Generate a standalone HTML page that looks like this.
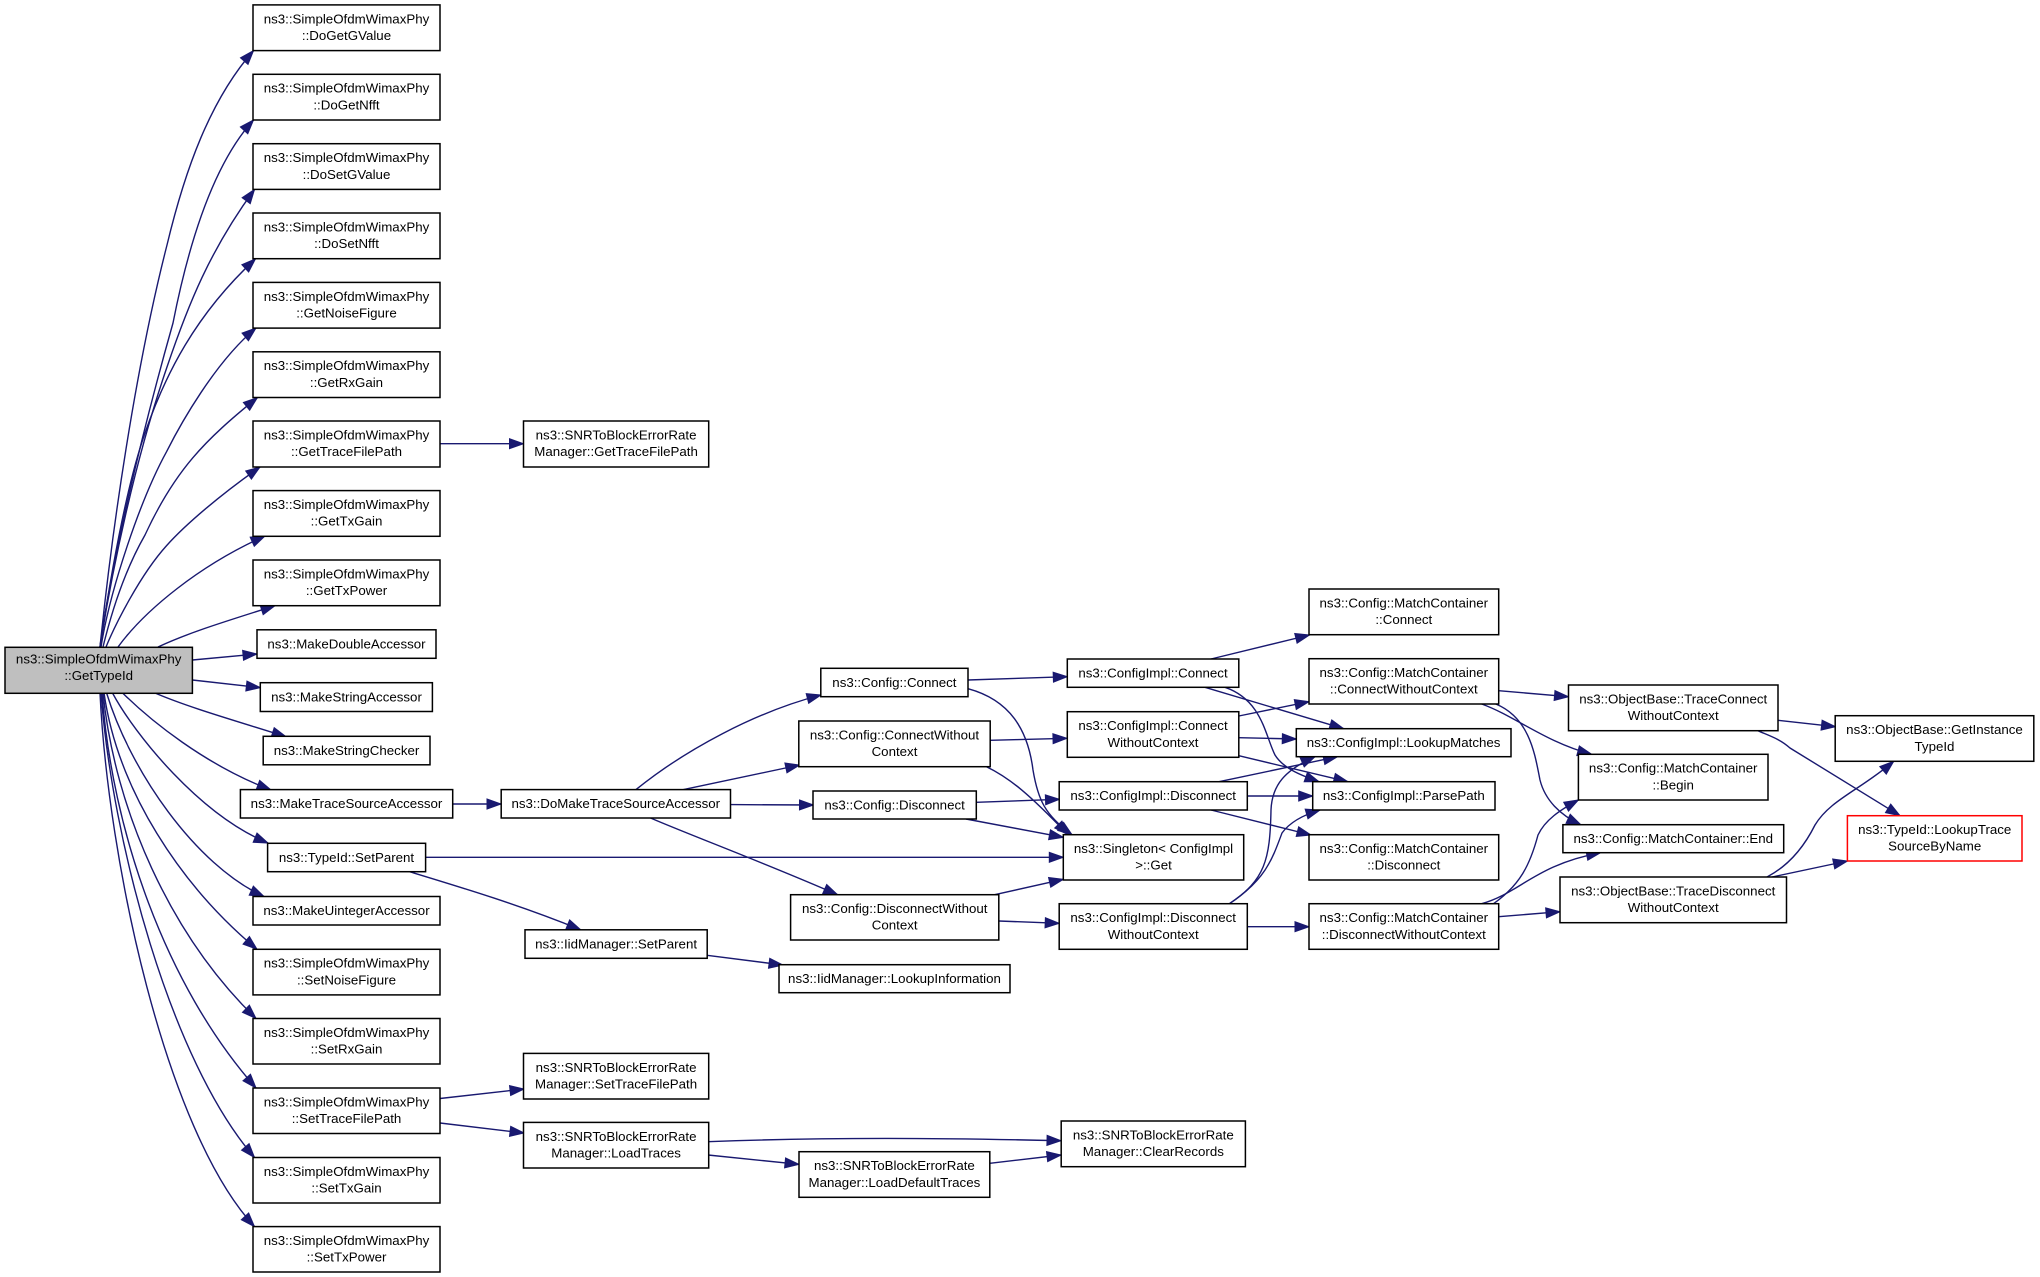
<!DOCTYPE html>
<html><head><meta charset="utf-8"><title>GetTypeId call graph</title>
<style>
html,body{margin:0;padding:0;background:#fff;width:2040px;height:1277px;overflow:hidden}
svg{display:block;filter:blur(0.35px)}
text{font-family:"Liberation Sans",sans-serif;font-size:13.3px;fill:#000;text-anchor:middle}
.n rect{fill:#fff;stroke:#000;stroke-width:1.5}
.e path{fill:none;stroke:#191970;stroke-width:1.4}
</style></head><body>
<svg xmlns="http://www.w3.org/2000/svg" width="2040" height="1277" viewBox="0 0 2040 1277">
<defs><marker id="a" markerUnits="userSpaceOnUse" markerWidth="20" markerHeight="16" refX="14" refY="5" orient="auto" overflow="visible"><path d="M0,0 L14,5 L0,10 z" fill="#191970" stroke="#191970" stroke-width="1"/></marker></defs>
<rect width="2040" height="1277" fill="#fff"/>
<g class="e">
<path marker-end="url(#a)" d="M100 647C112 530 135 370 167 245C185 170 210 100 253.5 50.6"/>
<path marker-end="url(#a)" d="M100 647C112 560 140 440 173 323C185 262 208 170 253.5 120"/>
<path marker-end="url(#a)" d="M100 647C112 570 135 460 167 367C188 305 210 250 254.5 189.4"/>
<path marker-end="url(#a)" d="M100 647C110 580 125 490 145 433C165 375 195 315 255.5 258.8"/>
<path marker-end="url(#a)" d="M101 647C110 590 140 500 166.7 451.4C180 425 215 362 256 328"/>
<path marker-end="url(#a)" d="M103 647C112 610 125 570 145 535C175 470 205 440 257.4 397.6"/>
<path marker-end="url(#a)" d="M106 647C115 625 140 575 166.7 545.5C185 525 220 495 260 467"/>
<path marker-end="url(#a)" d="M118 647C145 610 200 565 265 536"/>
<path marker-end="url(#a)" d="M158 647C190 632 230 620 275 605.7"/>
<path marker-end="url(#a)" d="M192.4 660L257 654"/>
<path marker-end="url(#a)" d="M192.4 680L260.3 687.6"/>
<path marker-end="url(#a)" d="M155 693C190 708 240 722 286 736.7"/>
<path marker-end="url(#a)" d="M122.6 693C150 720 205 765 271 790"/>
<path marker-end="url(#a)" d="M112.5 693C135 735 200 815 268 843"/>
<path marker-end="url(#a)" d="M106.6 693C130 770 195 865 264 896.5"/>
<path marker-end="url(#a)" d="M104 693C118 790 180 885 257 949.3"/>
<path marker-end="url(#a)" d="M103 693C115 810 170 935 256 1018.5"/>
<path marker-end="url(#a)" d="M102 693C112 830 165 985 256 1088"/>
<path marker-end="url(#a)" d="M101 693C112 840 170 1060 254.5 1157.5"/>
<path marker-end="url(#a)" d="M100 693C108 860 165 1130 254.5 1226.6"/>
<path marker-end="url(#a)" d="M440 443.7L523.5 443.7"/>
<path marker-end="url(#a)" d="M452.7 804L501 804"/>
<path marker-end="url(#a)" d="M425.6 857.3L1063.3 857.3"/>
<path marker-end="url(#a)" d="M409.6 871.7C460 887 520 905 580.7 929.8"/>
<path marker-end="url(#a)" d="M707 955.3L783 965"/>
<path marker-end="url(#a)" d="M440 1098.5L524 1089"/>
<path marker-end="url(#a)" d="M440 1123L524 1133"/>
<path marker-end="url(#a)" d="M708 1141.7C830 1137 940 1138 1061 1140.7"/>
<path marker-end="url(#a)" d="M708 1155L799 1164.3"/>
<path marker-end="url(#a)" d="M989.8 1163.3L1061 1155"/>
<path marker-end="url(#a)" d="M636 789.6C685 750 755 712 821 695"/>
<path marker-end="url(#a)" d="M683.5 789.6L799.6 765"/>
<path marker-end="url(#a)" d="M730.5 804.6L813.5 805"/>
<path marker-end="url(#a)" d="M650.5 818C690 835 770 865 837.5 894.7"/>
<path marker-end="url(#a)" d="M968 680L1067.3 676.7"/>
<path marker-end="url(#a)" d="M968 688.7C1010 700 1028 730 1033 770C1038 800 1045 815 1072 834.7"/>
<path marker-end="url(#a)" d="M990 740.3L1067 738.3"/>
<path marker-end="url(#a)" d="M986.5 766.7C1010 778 1030 795 1068 834.7"/>
<path marker-end="url(#a)" d="M976.3 802.3L1059.5 799.3"/>
<path marker-end="url(#a)" d="M966 819L1063.3 837.3"/>
<path marker-end="url(#a)" d="M994.7 894.7L1063.3 879.3"/>
<path marker-end="url(#a)" d="M998.8 921L1059.2 923.3"/>
<path marker-end="url(#a)" d="M1211 659L1309.5 635"/>
<path marker-end="url(#a)" d="M1205 687.3L1343.7 728.7"/>
<path marker-end="url(#a)" d="M1225 687.3C1262 700 1265 735 1275 755C1283 768 1300 775 1319 781.7"/>
<path marker-end="url(#a)" d="M1238.8 716L1309 701.7"/>
<path marker-end="url(#a)" d="M1238.8 737.7L1296.3 739"/>
<path marker-end="url(#a)" d="M1238.8 755.7L1347.8 781.7"/>
<path marker-end="url(#a)" d="M1219 781.7L1337.5 756.7"/>
<path marker-end="url(#a)" d="M1247.3 796L1312.7 796"/>
<path marker-end="url(#a)" d="M1211 810L1311 835"/>
<path marker-end="url(#a)" d="M1229.4 903.7C1265 880 1270 860 1271 810C1272 785 1285 770 1315 756.7"/>
<path marker-end="url(#a)" d="M1229.4 903.7C1265 880 1272 860 1282 833C1290 822 1303 815 1320 810"/>
<path marker-end="url(#a)" d="M1247.3 926.7L1309 926.7"/>
<path marker-end="url(#a)" d="M1498.7 690.7L1568.5 696.7"/>
<path marker-end="url(#a)" d="M1481.7 704C1515 716 1545 742 1591.6 754.3"/>
<path marker-end="url(#a)" d="M1495.8 704C1530 718 1535 755 1540 780C1545 800 1560 815 1580.8 824.7"/>
<path marker-end="url(#a)" d="M1493.5 903.7C1520 885 1530 865 1538 835C1545 820 1560 810 1578.4 800"/>
<path marker-end="url(#a)" d="M1481.7 903.7C1520 893 1535 865 1600.6 852.7"/>
<path marker-end="url(#a)" d="M1498.7 916.7L1560 911.7"/>
<path marker-end="url(#a)" d="M1778 720.3L1835.5 726.7"/>
<path marker-end="url(#a)" d="M1757.8 730.7C1770 736 1780 739 1790 748L1900 815.7"/>
<path marker-end="url(#a)" d="M1772 877L1847.4 861"/>
<path marker-end="url(#a)" d="M1767 877C1790 865 1805 845 1815 825C1830 800 1860 790 1893.7 761.3"/>
</g>
<g class="n">
<rect x="5" y="647.3" width="187.4" height="46" style="fill:#bfbfbf"/><text x="98.7" y="663.3">ns3::SimpleOfdmWimaxPhy</text><text x="98.7" y="680">::GetTypeId</text>
<rect x="253" y="4.9" width="187" height="45.7"/><text x="346.5" y="23.3">ns3::SimpleOfdmWimaxPhy</text><text x="346.5" y="40">::DoGetGValue</text>
<rect x="253" y="74.3" width="187" height="45.7"/><text x="346.5" y="92.7">ns3::SimpleOfdmWimaxPhy</text><text x="346.5" y="109.4">::DoGetNfft</text>
<rect x="253" y="143.7" width="187" height="45.7"/><text x="346.5" y="162.1">ns3::SimpleOfdmWimaxPhy</text><text x="346.5" y="178.8">::DoSetGValue</text>
<rect x="253" y="213" width="187" height="45.7"/><text x="346.5" y="231.4">ns3::SimpleOfdmWimaxPhy</text><text x="346.5" y="248.1">::DoSetNfft</text>
<rect x="253" y="282.4" width="187" height="45.7"/><text x="346.5" y="300.8">ns3::SimpleOfdmWimaxPhy</text><text x="346.5" y="317.5">::GetNoiseFigure</text>
<rect x="253" y="351.8" width="187" height="45.7"/><text x="346.5" y="370.2">ns3::SimpleOfdmWimaxPhy</text><text x="346.5" y="386.9">::GetRxGain</text>
<rect x="253" y="421" width="187" height="46"/><text x="346.5" y="439.4">ns3::SimpleOfdmWimaxPhy</text><text x="346.5" y="456.1">::GetTraceFilePath</text>
<rect x="253" y="490.6" width="187" height="45.7"/><text x="346.5" y="509">ns3::SimpleOfdmWimaxPhy</text><text x="346.5" y="525.7">::GetTxGain</text>
<rect x="253" y="560" width="187" height="45.7"/><text x="346.5" y="578.4">ns3::SimpleOfdmWimaxPhy</text><text x="346.5" y="595.1">::GetTxPower</text>
<rect x="257" y="629.8" width="179" height="28.5"/><text x="346.5" y="648.3">ns3::MakeDoubleAccessor</text>
<rect x="260.3" y="682.7" width="172.1" height="28.8"/><text x="346.5" y="701.3">ns3::MakeStringAccessor</text>
<rect x="263.2" y="736.3" width="166.8" height="28.5"/><text x="346.5" y="754.8">ns3::MakeStringChecker</text>
<rect x="240.4" y="789.6" width="212.3" height="28.4"/><text x="346.5" y="808">ns3::MakeTraceSourceAccessor</text>
<rect x="267.6" y="843.3" width="158" height="28.4"/><text x="346.5" y="861.8">ns3::TypeId::SetParent</text>
<rect x="253" y="896.5" width="187" height="28.5"/><text x="346.5" y="915">ns3::MakeUintegerAccessor</text>
<rect x="253" y="949.3" width="187" height="45.6"/><text x="346.5" y="967.7">ns3::SimpleOfdmWimaxPhy</text><text x="346.5" y="984.4">::SetNoiseFigure</text>
<rect x="253" y="1018.5" width="187" height="45.5"/><text x="346.5" y="1036.9">ns3::SimpleOfdmWimaxPhy</text><text x="346.5" y="1053.6">::SetRxGain</text>
<rect x="253" y="1088" width="187" height="45.5"/><text x="346.5" y="1106.4">ns3::SimpleOfdmWimaxPhy</text><text x="346.5" y="1123.1">::SetTraceFilePath</text>
<rect x="253" y="1157.5" width="187" height="45.5"/><text x="346.5" y="1175.9">ns3::SimpleOfdmWimaxPhy</text><text x="346.5" y="1192.6">::SetTxGain</text>
<rect x="253" y="1226.6" width="187" height="45.4"/><text x="346.5" y="1245">ns3::SimpleOfdmWimaxPhy</text><text x="346.5" y="1261.7">::SetTxPower</text>
<rect x="523.5" y="421" width="185.2" height="46"/><text x="616.1" y="439.4">ns3::SNRToBlockErrorRate</text><text x="616.1" y="456.1">Manager::GetTraceFilePath</text>
<rect x="501.2" y="789.6" width="229.3" height="28.4"/><text x="615.8" y="808">ns3::DoMakeTraceSourceAccessor</text>
<rect x="525" y="929.8" width="182.2" height="28.5"/><text x="616.1" y="948.3">ns3::IidManager::SetParent</text>
<rect x="523.5" y="1053.4" width="185.2" height="45.6"/><text x="616.1" y="1071.8">ns3::SNRToBlockErrorRate</text><text x="616.1" y="1088.5">Manager::SetTraceFilePath</text>
<rect x="523.5" y="1122.4" width="185.2" height="45.6"/><text x="616.1" y="1140.8">ns3::SNRToBlockErrorRate</text><text x="616.1" y="1157.5">Manager::LoadTraces</text>
<rect x="820.8" y="668.3" width="147.2" height="28.4"/><text x="894.4" y="686.8">ns3::Config::Connect</text>
<rect x="798.8" y="721" width="191.4" height="45.7"/><text x="894.5" y="739.4">ns3::Config::ConnectWithout</text><text x="894.5" y="756.1">Context</text>
<rect x="813" y="791" width="163.3" height="28"/><text x="894.6" y="809.3">ns3::Config::Disconnect</text>
<rect x="790.6" y="894.7" width="208.2" height="45.3"/><text x="894.7" y="913">ns3::Config::DisconnectWithout</text><text x="894.7" y="929.7">Context</text>
<rect x="779" y="964.7" width="231" height="28"/><text x="894.5" y="983">ns3::IidManager::LookupInformation</text>
<rect x="799" y="1151.7" width="190.8" height="45.6"/><text x="894.4" y="1170">ns3::SNRToBlockErrorRate</text><text x="894.4" y="1186.8">Manager::LoadDefaultTraces</text>
<rect x="1067.3" y="659" width="171.5" height="28.3"/><text x="1153" y="677.4">ns3::ConfigImpl::Connect</text>
<rect x="1067.3" y="711.7" width="171.5" height="45.6"/><text x="1153" y="730">ns3::ConfigImpl::Connect</text><text x="1153" y="746.8">WithoutContext</text>
<rect x="1059.2" y="781.7" width="188.1" height="28.3"/><text x="1153.2" y="800">ns3::ConfigImpl::Disconnect</text>
<rect x="1063.3" y="834.7" width="180.4" height="45.3"/><text x="1153.5" y="853">ns3::Singleton&lt; ConfigImpl</text><text x="1153.5" y="869.7">&gt;::Get</text>
<rect x="1059.2" y="903.7" width="188.1" height="45.6"/><text x="1153.2" y="922">ns3::ConfigImpl::Disconnect</text><text x="1153.2" y="938.8">WithoutContext</text>
<rect x="1061.2" y="1121" width="184.2" height="45.7"/><text x="1153.3" y="1139.4">ns3::SNRToBlockErrorRate</text><text x="1153.3" y="1156.1">Manager::ClearRecords</text>
<rect x="1309" y="589" width="189.7" height="45.7"/><text x="1403.8" y="607.4">ns3::Config::MatchContainer</text><text x="1403.8" y="624.1">::Connect</text>
<rect x="1309" y="658.7" width="189.7" height="45.3"/><text x="1403.8" y="677">ns3::Config::MatchContainer</text><text x="1403.8" y="693.7">::ConnectWithoutContext</text>
<rect x="1296.3" y="728.7" width="214.7" height="28"/><text x="1403.6" y="747">ns3::ConfigImpl::LookupMatches</text>
<rect x="1312.7" y="781.7" width="182.3" height="28.3"/><text x="1403.8" y="800">ns3::ConfigImpl::ParsePath</text>
<rect x="1309" y="834.7" width="189.7" height="45.3"/><text x="1403.8" y="853">ns3::Config::MatchContainer</text><text x="1403.8" y="869.7">::Disconnect</text>
<rect x="1309" y="903.7" width="189.7" height="45.6"/><text x="1403.8" y="922">ns3::Config::MatchContainer</text><text x="1403.8" y="938.8">::DisconnectWithoutContext</text>
<rect x="1568.5" y="685" width="209.5" height="45.7"/><text x="1673.2" y="703.4">ns3::ObjectBase::TraceConnect</text><text x="1673.2" y="720.1">WithoutContext</text>
<rect x="1578.4" y="754.3" width="189.6" height="45.7"/><text x="1673.2" y="772.7">ns3::Config::MatchContainer</text><text x="1673.2" y="789.4">::Begin</text>
<rect x="1562.9" y="824.7" width="220.8" height="28"/><text x="1673.3" y="843">ns3::Config::MatchContainer::End</text>
<rect x="1560" y="877" width="226.5" height="45.7"/><text x="1673.2" y="895.4">ns3::ObjectBase::TraceDisconnect</text><text x="1673.2" y="912.1">WithoutContext</text>
<rect x="1835.2" y="715.7" width="198.6" height="45.6"/><text x="1934.5" y="734">ns3::ObjectBase::GetInstance</text><text x="1934.5" y="750.8">TypeId</text>
<rect x="1847.4" y="815.7" width="174.6" height="45.3" style="stroke:#f00"/><text x="1934.7" y="834">ns3::TypeId::LookupTrace</text><text x="1934.7" y="850.7">SourceByName</text>
</g>
</svg>
</body></html>
